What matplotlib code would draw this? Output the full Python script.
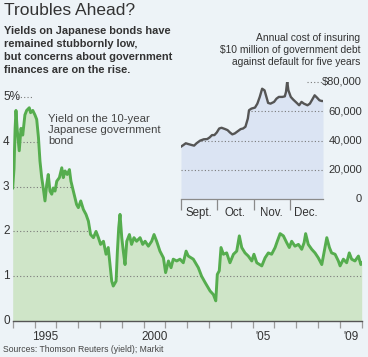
import matplotlib
matplotlib.use("Agg")
import matplotlib.pyplot as plt
import matplotlib.transforms as mtransforms
from matplotlib import font_manager

# 10-year JGB yield, %
jgb_year = [1994.00, 1994.06, 1994.11, 1994.15, 1994.21, 1994.30, 1994.38, 1994.46, 1994.56, 1994.64,
            1994.76, 1994.82, 1994.92, 1995.02, 1995.10, 1995.18, 1995.25, 1995.33, 1995.40, 1995.48,
            1995.56, 1995.63, 1995.71, 1995.79, 1995.86, 1995.94, 1996.02, 1996.14, 1996.25, 1996.32,
            1996.40, 1996.50, 1996.60, 1996.67, 1996.78, 1996.86, 1996.93, 1997.01, 1997.12, 1997.24,
            1997.36, 1997.47, 1997.57, 1997.70, 1997.82, 1997.93, 1998.03, 1998.16, 1998.28, 1998.38,
            1998.46, 1998.54, 1998.61, 1998.74, 1998.80, 1998.86, 1998.92, 1999.00, 1999.07, 1999.15,
            1999.23, 1999.35, 1999.45, 1999.56, 1999.68, 1999.84, 1999.96, 2000.07, 2000.22, 2000.37,
            2000.48, 2000.60, 2000.75, 2000.91, 2001.01, 2001.14, 2001.26, 2001.36, 2001.52, 2001.67,
            2001.82, 2001.95, 2002.05, 2002.28, 2002.51, 2002.66, 2002.82, 2003.05, 2003.20, 2003.31,
            2003.38, 2003.47, 2003.55, 2003.66, 2003.81, 2003.96, 2004.12, 2004.27, 2004.39, 2004.50,
            2004.65, 2004.80, 2004.96, 2005.06, 2005.19, 2005.42, 2005.57, 2005.72, 2005.87, 2006.03,
            2006.13, 2006.26, 2006.41, 2006.56, 2006.68, 2006.79, 2006.94, 2007.10, 2007.25, 2007.36,
            2007.43, 2007.55, 2007.71, 2007.86, 2008.01, 2008.17, 2008.27, 2008.40, 2008.52, 2008.62,
            2008.78, 2008.93, 2009.01, 2009.16, 2009.31, 2009.43, 2009.54, 2009.69, 2009.85, 2009.96,
            2010.00]
jgb_yield = [2.97, 3.40, 4.30, 4.70, 4.25, 3.80, 4.30, 4.15, 4.60, 4.70,
             4.76, 4.65, 4.70, 4.60, 4.50, 4.10, 3.57, 3.20, 2.97, 2.68,
             3.05, 3.27, 2.90, 2.83, 2.97, 2.90, 3.12, 3.20, 3.42, 3.20,
             3.35, 3.27, 3.38, 3.12, 2.90, 2.75, 2.60, 2.53, 2.68, 2.49,
             2.38, 2.23, 1.93, 1.86, 2.00, 1.86, 1.71, 1.78, 1.49, 1.64,
             1.26, 0.89, 0.78, 0.89, 1.56, 2.08, 2.38, 1.86, 1.56, 1.26,
             1.78, 1.93, 1.71, 1.86, 1.78, 1.86, 1.71, 1.78, 1.67, 1.78,
             1.93, 1.78, 1.56, 1.41, 1.08, 1.34, 1.19, 1.38, 1.34, 1.38,
             1.30, 1.56, 1.45, 1.38, 1.19, 1.00, 0.86, 0.67, 0.59, 0.45,
             1.04, 1.12, 1.64, 1.49, 1.52, 1.30, 1.49, 1.56, 1.90, 1.64,
             1.52, 1.45, 1.34, 1.49, 1.30, 1.23, 1.41, 1.52, 1.49, 1.64,
             1.78, 1.95, 1.90, 1.75, 1.64, 1.78, 1.67, 1.71, 1.60, 1.75,
             1.95, 1.71, 1.60, 1.52, 1.41, 1.26, 1.52, 1.86, 1.64, 1.52,
             1.49, 1.34, 1.23, 1.38, 1.30, 1.52, 1.38, 1.34, 1.45, 1.26,
             1.30]

year_ticks = list(range(1994, 2011))
year_label_pos = [1995.5, 2000.5, 2005.5, 2009.5]
year_labels = ["1995", "2000", "'05", "'09"]
yield_ticks = [0, 1, 2, 3, 4, 5]
yield_labels = ["0", "1", "2", "3", "4", "5%"]

# CDS cost, days since Sept. 1
cds_day = [0, 2, 4, 6, 9, 11, 13, 16, 19, 22, 24, 26, 28, 30, 32, 34, 37, 39, 41, 43,
           45, 47, 50, 52, 54, 56, 57, 59, 62, 64, 66, 68, 70, 72, 73, 75, 78, 80, 82, 85,
           87, 88, 89, 90, 92, 94, 97, 99, 101, 103, 106, 108, 110, 112, 114, 116, 118, 119]
cds_cost = [35800, 36900, 38100, 37600, 36900, 36500, 38100, 39900, 40800, 41000,
            42100, 43700, 43700, 45500, 48200, 48700, 47800, 47100, 45500, 44200,
            44800, 46000, 47800, 48200, 49400, 55000, 60700, 61800, 62500, 65200,
            69800, 75400, 74300, 68600, 65700, 65200, 66400, 68600, 69800, 69800,
            70200, 73200, 80400, 74300, 69800, 68000, 65700, 64100, 66400, 65200,
            64100, 65200, 68000, 70900, 69300, 67500, 67000, 67000]
month_starts = [0, 30, 61, 91]
month_label_pos = [15, 45.5, 76, 105]
month_labels = ["Sept.", "Oct.", "Nov.", "Dec."]
cost_ticks = [0, 20000, 40000, 60000, 80000]
cost_labels = ["0", "20,000", "40,000", "60,000", "$80,000"]

names = {f.name for f in font_manager.fontManager.ttflist}
font = "DejaVu Sans"
for cand in ["Liberation Sans Narrow", "DejaVu Sans Condensed", "Liberation Sans"]:
    if cand in names:
        font = cand
        break
plt.rcParams["font.family"] = [font, "DejaVu Sans"]

bg = "#edf3f7"
W, H = 368, 357
fig = plt.figure(figsize=(W / 100, H / 100), dpi=100, facecolor=bg)

def fx(x):
    return x / W

def fy(y):
    return 1 - y / H

# main chart
ax = fig.add_axes([fx(12.7), fy(321), (361.7 - 12.7) / W, (321 - 97) / H])
ax.set_facecolor("none")
ax.set_xlim(1994, 2010)
ax.set_ylim(0, 5)
fill = ax.fill_between(jgb_year, jgb_yield, 0, color="#cfe5c8", lw=0, zorder=1)
ax.plot(jgb_year, jgb_yield, color="#55ad4e", lw=2.1, zorder=3, solid_joinstyle="round")
clip = fill.get_paths()[0]
for v in [1, 2, 3, 4]:
    g = ax.axhline(v, color="#7a7a7a", lw=0.8, ls=(0, (1, 2)), zorder=2)
    g.set_clip_path(clip, ax.transData)
ax.axhline(5, xmin=0.012, xmax=0.055, color="#7a7a7a", lw=0.8, ls=(0, (1, 2)), clip_on=False)
for s in ["top", "right", "left"]:
    ax.spines[s].set_visible(False)
ax.spines["bottom"].set_color("#555555")
ax.spines["bottom"].set_linewidth(1.0)
ax.set_yticks([])
ax.set_xticks(year_ticks)
ax.set_xticklabels([])
ax.tick_params(axis="x", which="major", length=5, width=0.9, color="#9a9a9a", direction="out")
ax.set_xticks(year_label_pos, minor=True)
ax.set_xticklabels(year_labels, minor=True)
ax.tick_params(axis="x", which="minor", length=0, pad=7, labelsize=8.5, labelcolor="#333333")
lab_tr = mtransforms.blended_transform_factory(fig.transFigure, ax.transData)
for v, t in zip(yield_ticks, yield_labels):
    ax.text(fx(3), v, t, transform=lab_tr, ha="left", va="center", fontsize=8.5, color="#333333")
fig.text(fx(48), fy(114), "Yield on the 10-year\nJapanese government\nbond",
         ha="left", va="top", fontsize=8.2, color="#444444", linespacing=1.12)

# inset chart
ax2 = fig.add_axes([fx(181), fy(199), (323 - 181) / W, (199 - 82) / H])
ax2.set_facecolor("none")
ax2.set_xlim(0, 119)
ax2.set_ylim(0, 80000)
fill2 = ax2.fill_between(cds_day, cds_cost, 0, color="#dbe4f3", lw=0, zorder=1)
ax2.plot(cds_day, cds_cost, color="#555555", lw=1.7, zorder=3, solid_joinstyle="round")
clip2 = fill2.get_paths()[0]
for v in [20000, 40000, 60000]:
    g = ax2.axhline(v, color="#7a7a7a", lw=0.8, ls=(0, (1, 2)), zorder=2)
    g.set_clip_path(clip2, ax2.transData)
ax2.axhline(80000, xmin=0.89, xmax=1.0, color="#7a7a7a", lw=0.8, ls=(0, (1, 2)), clip_on=False)
for s in ["top", "right", "left"]:
    ax2.spines[s].set_visible(False)
ax2.spines["bottom"].set_color("#8a8a8a")
ax2.spines["bottom"].set_linewidth(0.9)
ax2.set_yticks([])
ax2.set_xticks(month_starts)
ax2.set_xticklabels([])
ax2.tick_params(axis="x", which="major", length=8, width=0.9, color="#8a8a8a", direction="out")
ax2.set_xticks(month_label_pos, minor=True)
ax2.set_xticklabels(month_labels, minor=True)
ax2.tick_params(axis="x", which="minor", length=0, pad=6, labelsize=8.3, labelcolor="#333333")
lab_tr2 = mtransforms.blended_transform_factory(fig.transFigure, ax2.transData)
for v, t in zip(cost_ticks, cost_labels):
    ax2.text(fx(362), v, t, transform=lab_tr2, ha="right", va="center", fontsize=8.0, color="#333333")
fig.text(fx(360), fy(33), "Annual cost of insuring\n$10 million of government debt\nagainst default for five years",
         ha="right", va="top", fontsize=7.4, color="#333333", linespacing=1.22)

# headline, intro, source
fig.text(fx(4), fy(3), "Troubles Ahead?", ha="left", va="top", fontsize=12.5, color="#333333")
fig.text(fx(4), fy(26), "Yields on Japanese bonds have\nremained stubbornly low,\n"
         "but concerns about government\nfinances are on the rise.",
         ha="left", va="top", fontsize=7.9, fontweight="bold", color="#333333", linespacing=1.36)
fig.text(fx(3), fy(350), "Sources: Thomson Reuters (yield); Markit", ha="left", va="center",
         fontsize=6.2, color="#444444")

fig.savefig("out.png", dpi=100, facecolor=bg)
